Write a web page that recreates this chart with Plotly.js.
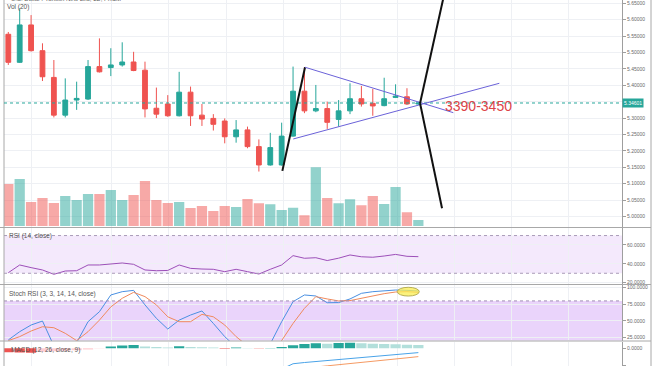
<!DOCTYPE html>
<html>
<head>
<meta charset="utf-8">
<script src="https://cdn.plot.ly/plotly-3.0.1.min.js"></script>
<style>html,body{margin:0;padding:0;background:#fff;}#chart{width:654px;height:366px;}</style>
</head>
<body>
<div id="chart"></div>
<script>
// ---- data (daily candles, index 0..36) ----
const idx = [0,1,2,3,4,5,6,7,8,9,10,11,12,13,14,15,16,17,18,19,20,21,22,23,24,25,26,27,28,29,30,31,32,33,34,35,36];
const openP  = [5.5555,5.470,5.584,5.5055,5.424,5.309,5.355,5.358,5.457,5.454,5.462,5.471,5.446,5.330,5.343,5.307,5.379,5.309,5.299,5.291,5.243,5.264,5.213,5.157,5.157,5.245,5.382,5.322,5.329,5.296,5.322,5.359,5.345,5.338,5.363,5.365,5.343];
const highP  = [5.5625,5.635,5.614,5.528,5.477,5.421,5.411,5.477,5.543,5.513,5.531,5.502,5.472,5.393,5.370,5.441,5.396,5.343,5.312,5.299,5.294,5.274,5.235,5.255,5.286,5.457,5.455,5.401,5.350,5.355,5.406,5.398,5.389,5.423,5.403,5.391,5.350];
const lowP   = [5.462,5.468,5.503,5.413,5.302,5.302,5.325,5.355,5.439,5.428,5.457,5.443,5.302,5.300,5.304,5.305,5.276,5.276,5.262,5.223,5.225,5.208,5.137,5.155,5.155,5.243,5.315,5.318,5.267,5.274,5.312,5.335,5.307,5.336,5.361,5.340,5.340];
const closeP = [5.470,5.584,5.5055,5.426,5.309,5.355,5.360,5.457,5.441,5.462,5.471,5.445,5.328,5.312,5.307,5.379,5.307,5.297,5.281,5.243,5.264,5.213,5.157,5.210,5.245,5.382,5.322,5.329,5.287,5.322,5.359,5.343,5.337,5.359,5.367,5.343,5.346];
const volume = [42000,47000,24000,28000,23000,30000,26000,32000,32000,36000,26000,31000,45000,26000,23000,24000,18000,20000,15000,20000,19000,27000,22700,21700,16000,18300,10700,58700,28000,22700,26700,20700,30000,22000,39000,13700,6000];
const rsi = [30.6,38.8,36,33.5,28.9,32.4,32.7,38.8,38.8,39.8,40.9,39.5,33.5,32.7,33,38.8,35.2,34.5,34.2,31.7,34.2,31.7,29.2,34.2,38.8,48.7,45.9,46.5,43.5,46,49.4,47.5,47,48.3,50,48,47.6];
const stochK = [21,33.5,43.6,49.6,12,0,17,48.6,63.7,89,94,96,74,53.7,37.5,51,58.7,64.8,46,26,10,0,0,15,48.6,78.9,89,87.5,77.3,77.5,83,91.5,94,95.5,96.5,96,95];
const stochD = [20,26,34.5,41,39.5,31,20,33.5,51,71,84,93,86.5,74,56,48.6,48.6,59.7,56,43.6,26,12,3,5,20,46,68.8,86.5,83,80,80.5,84,88,91,93.5,94,93];
const macdHist = [-0.0023,-0.0025,-0.0026,-0.0020,-0.0017,-0.0014,-0.0012,-0.0007,-0.0002,0.0010,0.0016,0.0019,0.0010,0.0008,0.0004,0.0012,0.0008,0.0006,0.0004,-0.0003,0.0004,0.0002,-0.0002,0.0002,0.0008,0.0017,0.0025,0.0029,0.0026,0.0030,0.0032,0.0029,0.0026,0.0025,0.0023,0.0021,0.0019];
const macdLine = [-0.0150,-0.0165,-0.0180,-0.0190,-0.0198,-0.0203,-0.0205,-0.0204,-0.0200,-0.0190,-0.0178,-0.0168,-0.0170,-0.0171,-0.0172,-0.0160,-0.0155,-0.0152,-0.0150,-0.0155,-0.0150,-0.0148,-0.0150,-0.0140,-0.0120,-0.0089,-0.0082,-0.0076,-0.0069,-0.0063,-0.0057,-0.0051,-0.0046,-0.0040,-0.0035,-0.0030,-0.0025];
const signalLine = [-0.0125,-0.0140,-0.0154,-0.0170,-0.0181,-0.0189,-0.0193,-0.0197,-0.0198,-0.0200,-0.0194,-0.0187,-0.0180,-0.0179,-0.0176,-0.0172,-0.0163,-0.0161,-0.0156,-0.0152,-0.0154,-0.0150,-0.0148,-0.0152,-0.0148,-0.0135,-0.0120,-0.0108,-0.0101,-0.0095,-0.0087,-0.0080,-0.0074,-0.0067,-0.0061,-0.0055,-0.0048];
const lastPrice = 5.34601;
const priceTickVals = [5.00,5.05,5.10,5.15,5.20,5.25,5.30,5.35,5.40,5.45,5.50,5.55,5.60,5.65];
const rsiTickVals = [20,40,60,80];
const stochTickVals = [25,50,75,100];
const macdTickVals = [0,-0.01];
const weekGrid = [2.05,9.1,14.1,19.15,24.15,29.15,34.15,39.15,44.15,49.15];
// ---- drawings (index, price) ----
const trendUpLeg = {x:[24.06,26.05], y:[5.139,5.455]};
const wedgeUpper = {x:[26.05,39.07], y:[5.455,5.3165]};
const wedgeLower = {x:[25.02,43.11], y:[5.2363,5.4061]};
const zigzag = {x:[38.35,36.15,38.08], y:[5.69,5.345,5.025]};
const targetLabel = {text:'3390-3450', x:41.24, y:5.337};
const stochMark = {x:[34.15,36.08], y:[87.4,100.6]};

const UP='#26a69a', DN='#ef5350';
const volColors = idx.map(i => closeP[i] >= openP[i] ? 'rgba(38,166,154,0.5)' : 'rgba(239,83,80,0.5)');
const histColors = macdHist.map((h,i) => {
  const p = i>0 ? macdHist[i-1] : h;
  if (h >= 0) return h >= p ? '#26a69a' : '#b2dfdb';
  return h <= p ? '#ef5350' : '#ffcdd2';
});
// hide the price tick label hidden behind the last-price tag (as the reference does)
const priceTickText = priceTickVals.map(v => Math.abs(v - lastPrice) < 0.02 ? '' : v.toFixed(5));

const traces = [
  {type:'bar', x:idx, y:volume, xaxis:'x', yaxis:'y', marker:{color:volColors, line:{width:0}}, width:0.9, hoverinfo:'skip'},
  {type:'candlestick', x:idx, open:openP, high:highP, low:lowP, close:closeP, xaxis:'x', yaxis:'y5',
   increasing:{line:{color:UP,width:1}, fillcolor:UP}, decreasing:{line:{color:DN,width:1}, fillcolor:DN}, whiskerwidth:0},
  {type:'scatter', mode:'lines', x:idx, y:rsi, xaxis:'x', yaxis:'y2', line:{color:'#9c4fb8', width:1}},
  {type:'scatter', mode:'lines', x:idx, y:stochK, xaxis:'x', yaxis:'y3', line:{color:'#4a90e2', width:1}},
  {type:'scatter', mode:'lines', x:idx, y:stochD, xaxis:'x', yaxis:'y3', line:{color:'#f08a5d', width:1}},
  {type:'bar', x:idx, y:macdHist, xaxis:'x', yaxis:'y4', marker:{color:histColors, line:{width:0}}, width:0.9},
  {type:'scatter', mode:'lines', x:idx, y:macdLine, xaxis:'x', yaxis:'y4', line:{color:'#4aa3e8', width:1}},
  {type:'scatter', mode:'lines', x:idx, y:signalLine, xaxis:'x', yaxis:'y4', line:{color:'#f59a63', width:1}}
];

const H = 366, W0 = 4, PW = 618;
const py = p => 1 - p/H;
const px = p => (p - W0)/PW;
const grid = '#eef0f4';
const tickFont = {family:'Liberation Sans, Arial, sans-serif', size:5, color:'#6a6a6a'};
const rAxis = (extra) => Object.assign({side:'right', anchor:'x', showline:true, linecolor:'#9e9e9e', linewidth:1,
  ticks:'outside', ticklen:3, tickcolor:'#9e9e9e', tickfont:tickFont, showgrid:true, gridcolor:grid, zeroline:false, fixedrange:true}, extra);

const shapes = [
  {type:'rect', xref:'paper', yref:'y2', x0:0, x1:1, y0:30, y1:70, fillcolor:'#f4e9fc', line:{width:0}, layer:'below'},
  {type:'line', xref:'paper', yref:'y2', x0:0, x1:1, y0:70, y1:70, line:{color:'#a99bb8', width:1, dash:'3px,3px'}},
  {type:'line', xref:'paper', yref:'y2', x0:0, x1:1, y0:30, y1:30, line:{color:'#a99bb8', width:1, dash:'3px,3px'}},
  {type:'rect', xref:'paper', yref:'y3', x0:0, x1:1, y0:20, y1:80, fillcolor:'#ead4fb', line:{width:0}, layer:'below'},
  {type:'line', xref:'paper', yref:'y3', x0:0, x1:1, y0:80, y1:80, line:{color:'#a08fb3', width:1, dash:'3px,3px'}},
  {type:'line', xref:'paper', yref:'paper', x0:px(0), x1:px(651), y0:py(227.5), y1:py(227.5), line:{color:'#a8a8a8', width:1}},
  {type:'line', xref:'paper', yref:'paper', x0:px(0), x1:px(651), y0:py(284.5), y1:py(284.5), line:{color:'#a8a8a8', width:1}},
  {type:'line', xref:'paper', yref:'paper', x0:px(0), x1:px(651), y0:py(341), y1:py(341), line:{color:'#a8a8a8', width:1}},
  {type:'line', xref:'paper', yref:'paper', x0:0, x1:0, y0:0, y1:1, line:{color:'#a8a8a8', width:1}},
  {type:'line', xref:'paper', yref:'paper', x0:px(651), x1:px(651), y0:0, y1:1, line:{color:'#a8a8a8', width:1}},
  {type:'line', xref:'paper', yref:'y5', x0:0, x1:1, y0:lastPrice, y1:lastPrice, line:{color:'#26a69a', width:1, dash:'dot'}},
  {type:'line', xref:'x', yref:'y5', x0:trendUpLeg.x[0], x1:trendUpLeg.x[1], y0:trendUpLeg.y[0], y1:trendUpLeg.y[1], line:{color:'#111', width:2}},
  {type:'line', xref:'x', yref:'y5', x0:wedgeUpper.x[0], x1:wedgeUpper.x[1], y0:wedgeUpper.y[0], y1:wedgeUpper.y[1], line:{color:'#6b62d9', width:1}},
  {type:'line', xref:'x', yref:'y5', x0:wedgeLower.x[0], x1:wedgeLower.x[1], y0:wedgeLower.y[0], y1:wedgeLower.y[1], line:{color:'#6b62d9', width:1}},
  {type:'line', xref:'x', yref:'y5', x0:zigzag.x[0], x1:zigzag.x[1], y0:zigzag.y[0], y1:zigzag.y[1], line:{color:'#111', width:2}},
  {type:'line', xref:'x', yref:'y5', x0:zigzag.x[1], x1:zigzag.x[2], y0:zigzag.y[1], y1:zigzag.y[2], line:{color:'#111', width:2}},
  {type:'circle', xref:'x', yref:'y3', x0:stochMark.x[0], x1:stochMark.x[1], y0:stochMark.y[0], y1:stochMark.y[1], fillcolor:'rgba(250,238,80,0.75)', line:{color:'#b8b055', width:1}}
];

const lblFont = {family:'Liberation Sans, Arial, sans-serif', size:6.5, color:'#555'};
const annotations = [
  {xref:'paper', yref:'paper', x:px(9), y:py(-1.5), xanchor:'left', yanchor:'middle', showarrow:false, text:'U.S. Dollar / Turkish New Lira, 1D, FXCM',
   font:{family:'Liberation Sans, Arial, sans-serif', size:6, color:'#555'}},
  {xref:'paper', yref:'paper', x:px(5), y:py(7), xanchor:'left', yanchor:'middle', showarrow:false, text:'Vol (20)', font:lblFont},
  {xref:'paper', yref:'paper', x:px(7), y:py(235.5), xanchor:'left', yanchor:'middle', showarrow:false, text:'RSI (14, close)', font:lblFont},
  {xref:'paper', yref:'paper', x:px(7), y:py(293.5), xanchor:'left', yanchor:'middle', showarrow:false, text:'Stoch RSI (3, 3, 14, 14, close)', font:lblFont},
  {xref:'paper', yref:'paper', x:px(9), y:py(349.5), xanchor:'left', yanchor:'middle', showarrow:false, text:'MACD (12, 26, close, 9)', font:lblFont},
  {xref:'x', yref:'y5', x:targetLabel.x, y:targetLabel.y, xanchor:'center', yanchor:'middle', showarrow:false, text:targetLabel.text,
   font:{family:'Liberation Sans, Arial, sans-serif', size:14, color:'#dc4448'}},
  {xref:'paper', yref:'y5', x:1, y:lastPrice, xanchor:'left', yanchor:'middle', showarrow:false, text:lastPrice.toFixed(5),
   bgcolor:'#26a69a', borderpad:1, font:{family:'Liberation Sans, Arial, sans-serif', size:5, color:'#fff'}}
];

const layout = {
  width:654, height:366, margin:{l:4, r:32, t:0, b:0}, paper_bgcolor:'#fff', plot_bgcolor:'#fff', showlegend:false,
  boxgap:0.4, bargap:0.1,
  xaxis:{range:[-0.378,53.88], showticklabels:false, ticks:'', tickvals:weekGrid, showgrid:true, gridcolor:grid, zeroline:false,
         rangeslider:{visible:false}, fixedrange:true, anchor:'y'},
  yaxis:{domain:[py(227.5),1], range:[-1500,226000], showgrid:false, showticklabels:false, zeroline:false, showline:false, fixedrange:true},
  yaxis5: rAxis({overlaying:'y', range:[4.9664,5.660], tickvals:priceTickVals, ticktext:priceTickText}),
  yaxis2: rAxis({domain:[py(284.5),py(228)], range:[18.1,78.0], tickvals:rsiTickVals, tickformat:'.4f'}),
  yaxis3: rAxis({domain:[py(341),py(285)], range:[19.4,104.1], tickvals:stochTickVals, tickformat:'.4f'}),
  yaxis4: rAxis({domain:[0,py(341.5)], range:[-0.0102,0.0039], tickvals:macdTickVals, tickformat:'.4f', showgrid:false}),
  shapes:shapes, annotations:annotations
};

Plotly.newPlot('chart', traces, layout, {staticPlot:true, displayModeBar:false});
</script>
</body>
</html>
